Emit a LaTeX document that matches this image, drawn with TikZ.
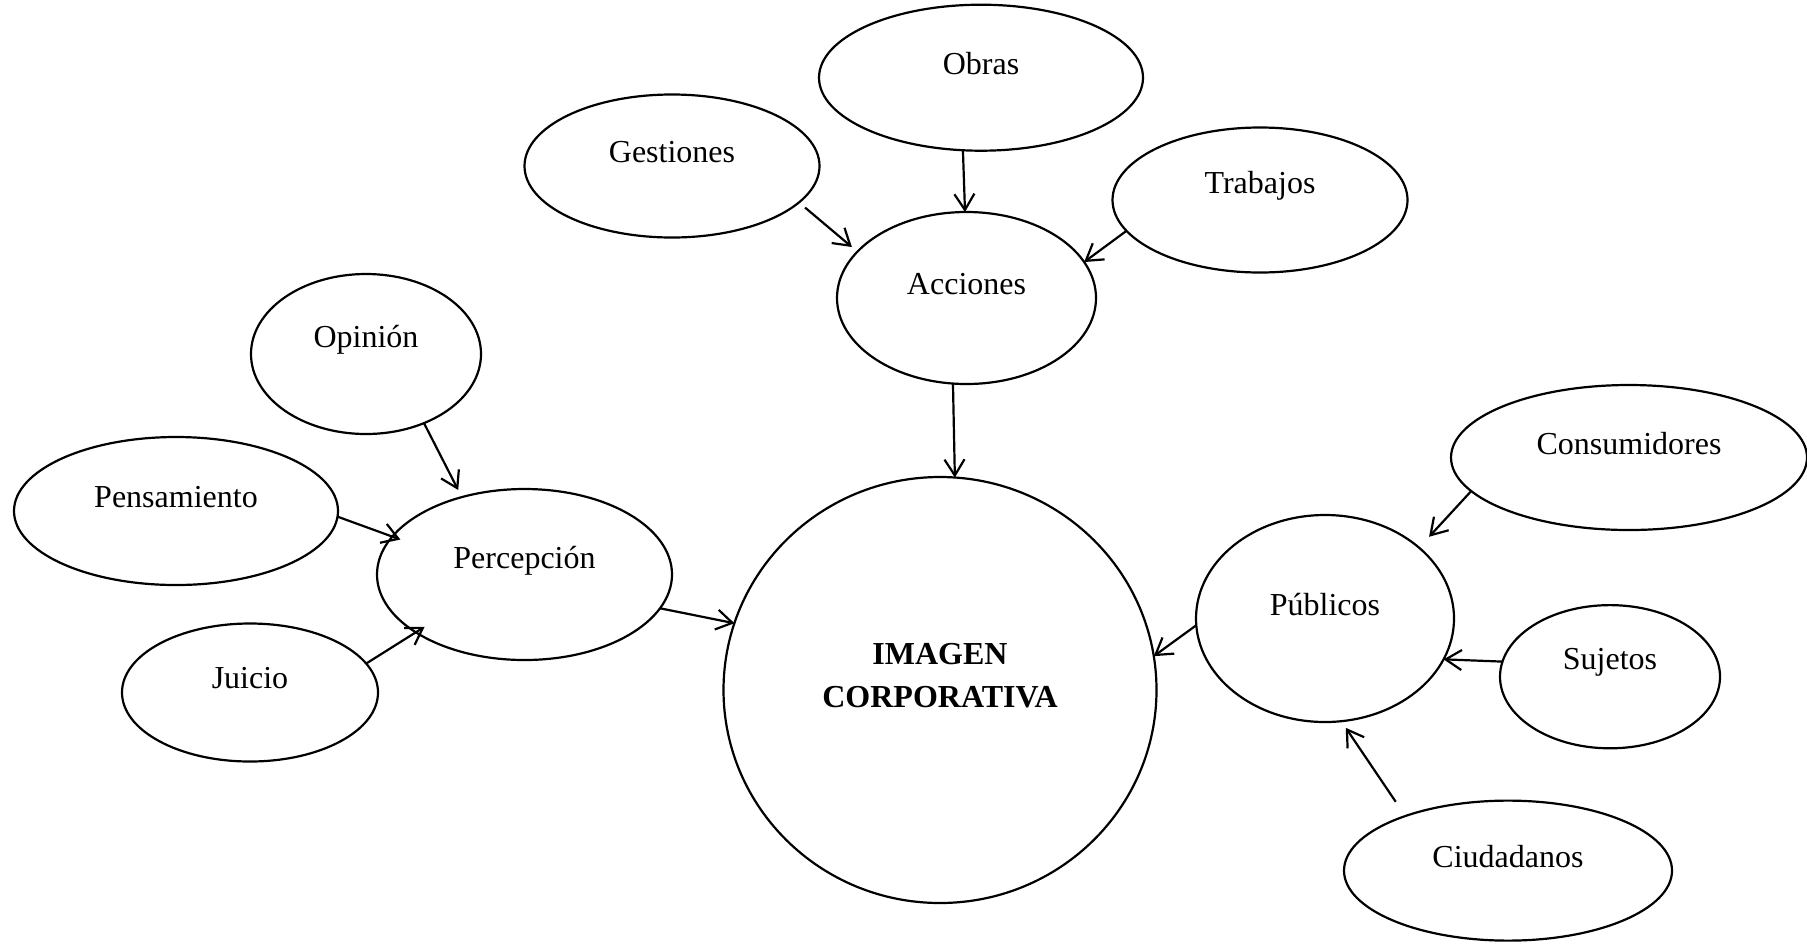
\documentclass[tikz,border=0pt]{standalone}
\usepackage{fontspec}
\setmainfont{Liberation Serif}
\usetikzlibrary{shapes.geometric,arrows.meta}
\begin{document}
\begin{tikzpicture}[x=0.5pt,y=-0.5pt,
  bub/.style 2 args={ellipse,draw,line width=1.1pt,inner sep=0pt,outer sep=0pt,minimum width=#1pt,minimum height=#2pt},
  every label/.append style={font=\fontsize{16}{21.5}\selectfont, yshift=7pt, inner sep=0pt},
  arr/.style={line width=1.1pt,-{Straight Barb[length=8pt,width=10pt,line width=1.1pt]}}]
\useasboundingbox (0,0) rectangle (1807,944);

\node[bub={162}{73},   label=center:Obras]       (obras) at (981,77.7) {};
\node[bub={147.5}{71.5}, label=center:Gestiones] (gest)  at (672,166) {};
\node[bub={147.5}{72.5}, label=center:Trabajos]  (trab)  at (1260,200) {};
\node[bub={129.5}{86},  label=center:Acciones]   (acc)   at (966.5,298) {};
\node[bub={115}{80},    label=center:Opinión]    (opin)  at (366,354) {};
\node[bub={162}{74},    label=center:Pensamiento] (pens) at (176,511) {};
\node[bub={147.5}{85.5}, label=center:Percepción] (perc) at (524.5,574.5) {};
\node[bub={128}{69},    label=center:Juicio]     (juic)  at (250,692.5) {};
\node[bub={216.5}{213}, label={[align=center,font=\fontsize{16}{21.5}\selectfont\bfseries]center:{IMAGEN\\CORPORATIVA}}] (img) at (940,690) {};
\node[bub={178}{72.5},  label=center:Consumidores] (cons) at (1629,457.5) {};
\node[bub={129}{103.5}, label=center:Públicos]   (pub)   at (1325,618.5) {};
\node[bub={110}{71.6},  label=center:Sujetos]    (suj)   at (1610,676.7) {};
\node[bub={164}{70},    label=center:Ciudadanos] (ciud)  at (1508,870.6) {};

\draw[arr, shorten <=4pt, shorten >=3.6pt] (gest.-16.9) -- (acc.157.5);
\draw[arr] (obras.256.8) -- (acc.91.7);
\draw[arr] (trab.193.7) -- (acc.17.1);
\draw[arr] (acc.261.1) -- (img.86.5);
\draw[arr, shorten >=4pt] (opin.-50.8) -- (perc.129.1);
\draw[arr, shorten >=-4.3pt] (pens.-2.1) -- (perc.164.2);
\draw[arr, shorten >=-5.2pt] (juic.14) -- (perc.208.2);
\draw[arr] (perc.-14.2) -- (img.162.9);
\draw[arr, shorten >=7.4pt] (cons.192.1) -- (pub.37.9);
\draw[arr] (pub.183.8) -- (img.9.7);
\draw[arr] (suj.172.9) -- (pub.-19.8);
\draw[arr, shorten <=8.6pt, shorten >=4pt] (ciud.152.3) -- (pub.-81.4);
\end{tikzpicture}
\end{document}
